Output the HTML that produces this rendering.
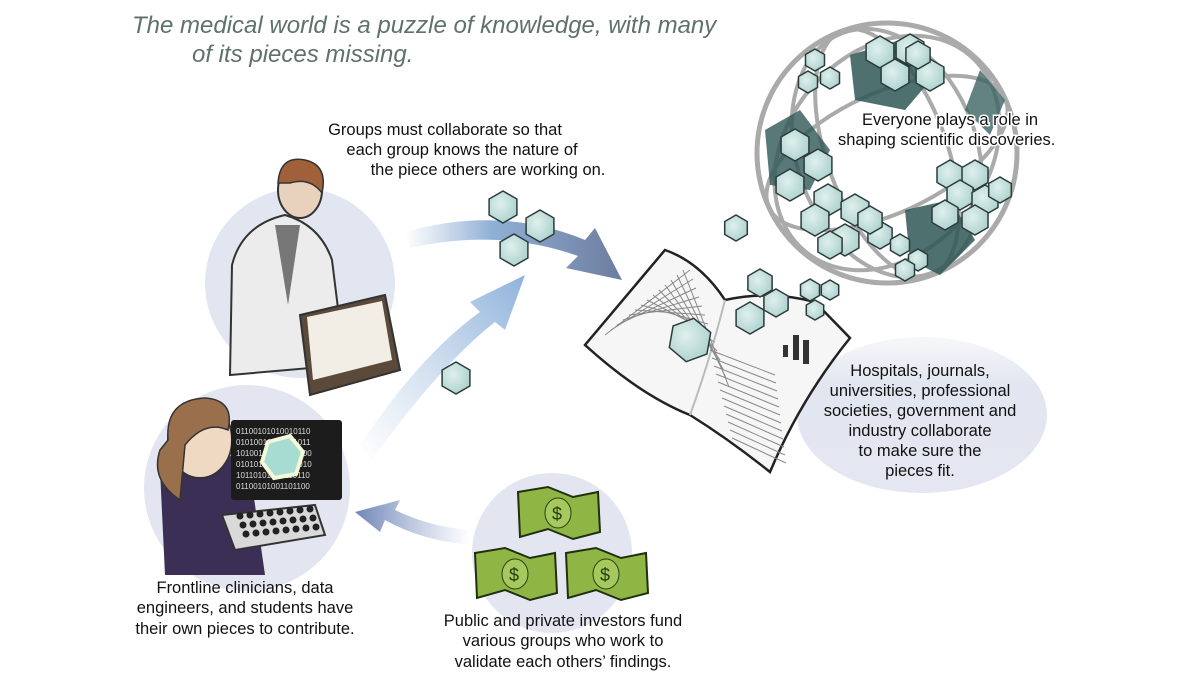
<!DOCTYPE html>
<html><head><meta charset="utf-8"><style>
html,body{margin:0;padding:0;background:#fff;}
svg{display:block}
text{font-family:"Liberation Sans",Arial,sans-serif;}
.l{font-size:16.5px;fill:#111;}
</style></head><body>
<svg id="s" width="1200" height="683" viewBox="0 0 1200 683" xmlns="http://www.w3.org/2000/svg">
<defs>
<linearGradient id="cg" x1="0" y1="0" x2="0" y2="1"><stop offset="0" stop-color="#e2e6f0" stop-opacity="0.3"/><stop offset="0.3" stop-color="#e2e6f0"/><stop offset="1" stop-color="#e4e7f1"/></linearGradient>
<linearGradient id="ag1" x1="0" y1="0" x2="1" y2="0"><stop offset="0" stop-color="#9ab6d8" stop-opacity="0"/><stop offset="0.4" stop-color="#8fb0d6"/><stop offset="1" stop-color="#6d7c9e"/></linearGradient>
<linearGradient id="ag2" x1="0" y1="1" x2="1" y2="0"><stop offset="0" stop-color="#a9c3e2" stop-opacity="0"/><stop offset="1" stop-color="#8fb2dc"/></linearGradient>
<linearGradient id="ag3" x1="1" y1="0" x2="0" y2="0"><stop offset="0" stop-color="#8aa0cc" stop-opacity="0"/><stop offset="1" stop-color="#7085b5"/></linearGradient>
<radialGradient id="hx" cx="0.4" cy="0.4" r="0.7"><stop offset="0" stop-color="#dff0ee"/><stop offset="1" stop-color="#a9cfcb"/></radialGradient>
</defs>
<text x="132" y="33" font-size="24" font-style="italic" fill="#5e716c">The medical world is a puzzle of knowledge, with many</text>
<text x="192" y="62" font-size="24" font-style="italic" fill="#5e716c">of its pieces missing.</text>

<circle cx="300" cy="283" r="95" fill="#e2e6f0"/>
<circle cx="247" cy="488" r="103" fill="#e3e6f0"/>
<circle cx="552" cy="553" r="80" fill="#e3e6f0"/>
<ellipse cx="922" cy="415" rx="125" ry="78" fill="url(#cg)"/>

<!-- arrows -->
<path d="M405 232 Q500 205 585 240 L595 228 L622 280 L566 268 L578 256 Q500 228 410 248 Z" fill="url(#ag1)"/>
<path d="M360 445 Q420 355 480 312 L470 302 L525 275 L505 330 L495 322 Q440 365 372 460 Z" fill="url(#ag2)"/>
<path d="M470 545 Q420 540 385 520 L380 532 L355 512 L400 500 L395 510 Q430 527 470 530 Z" fill="url(#ag3)"/>

<!-- scientist -->
<g transform="translate(10,15)">
<path d="M220 360 L222 250 Q232 210 275 200 Q310 210 322 245 L335 350 Z" fill="#ececec" stroke="#333" stroke-width="2"/>
<path d="M265 210 L278 290 L290 210 Z" fill="#777"/>
<ellipse cx="290" cy="175" rx="22" ry="28" fill="#e9d2bd" stroke="#333" stroke-width="2"/>
<path d="M268 168 Q270 140 295 145 Q318 150 312 178 Q300 162 280 168 Z" fill="#a0613a" stroke="#333" stroke-width="1.5"/>
<path d="M290 300 L375 280 L390 355 L300 380 Z" fill="#5b4a3a" stroke="#333" stroke-width="2"/>
<path d="M297 302 L372 286 L382 345 L303 365 Z" fill="#f2eee6"/>
</g>

<!-- clinician -->
<path d="M165 575 L160 470 Q180 440 215 445 L250 470 L265 575 Z" fill="#3c2f55"/>
<ellipse cx="200" cy="440" rx="32" ry="38" fill="#efd9c3" stroke="#333" stroke-width="2"/>
<path d="M168 440 Q165 400 205 398 Q235 400 228 430 Q205 420 185 445 L180 500 Q150 480 160 450 Z" fill="#9a6f4c" stroke="#333" stroke-width="1.5"/>
<rect x="231" y="420" width="111" height="80" rx="3" fill="#1c1c1c"/>
<text x="236" y="434" font-size="8" fill="#ddd" font-family="Liberation Mono,monospace">01100101010010110</text>
<text x="236" y="445" font-size="8" fill="#ddd" font-family="Liberation Mono,monospace">01010010110101011</text>
<text x="236" y="456" font-size="8" fill="#ddd" font-family="Liberation Mono,monospace">10100101001010100</text>
<text x="236" y="467" font-size="8" fill="#ddd" font-family="Liberation Mono,monospace">01010100101001010</text>
<text x="236" y="478" font-size="8" fill="#ddd" font-family="Liberation Mono,monospace">10110101010110110</text>
<text x="236" y="489" font-size="8" fill="#ddd" font-family="Liberation Mono,monospace">01100101001101100</text>
<polygon points="268,442 290,436 303,452 296,474 274,478 262,462" fill="#a7dcd2" stroke="#f4f8d8" stroke-width="4"/>
<path d="M222 515 L315 505 L325 535 L235 550 Z" fill="#d9d9d9" stroke="#333" stroke-width="2"/>
<g id="keys"></g>

<!-- money -->
<g id="money"></g>

<!-- book -->
<path d="M665 250 Q700 262 725 300 Q770 290 815 302 L850 338 Q800 400 770 472 Q730 440 690 415 Q640 395 585 345 Z" fill="#f6f6f6" stroke="#222" stroke-width="2.5"/>
<path d="M725 300 Q710 360 690 415" stroke="#bbb" stroke-width="2" fill="none"/>
<g id="lines" stroke="#888" stroke-width="1"></g>
<rect x="783" y="345" width="5" height="12" fill="#333"/><rect x="793" y="335" width="6" height="25" fill="#333"/><rect x="803" y="340" width="6" height="24" fill="#333"/>

<!-- sphere -->
<circle cx="887" cy="153" r="130" fill="none" stroke="#aaa" stroke-width="5"/>
<ellipse cx="887" cy="153" rx="130" ry="60" fill="none" stroke="#aaa" stroke-width="4" transform="rotate(-25 887 153)"/>
<ellipse cx="887" cy="153" rx="60" ry="130" fill="none" stroke="#aaa" stroke-width="4" transform="rotate(-20 887 153)"/>
<ellipse cx="887" cy="153" rx="100" ry="128" fill="none" stroke="#aaa" stroke-width="4" transform="rotate(40 887 153)"/>
<ellipse cx="887" cy="153" rx="128" ry="90" fill="none" stroke="#aaa" stroke-width="4" transform="rotate(70 887 153)"/>
<path d="M850 55 L900 40 L935 75 L905 110 L855 100 Z" fill="#2f5756" opacity="0.85"/>
<path d="M765 130 L800 110 L830 150 L810 190 L770 185 Z" fill="#2f5756" opacity="0.8"/>
<path d="M905 210 L950 200 L975 240 L940 275 L910 260 Z" fill="#2f5756" opacity="0.85"/>
<path d="M980 70 L1005 100 L990 135 L965 110 Z" fill="#3c6463" opacity="0.8"/>
<g id="hexes"></g>
<text x="862" y="125" class="l" stroke="#fff" stroke-width="3" paint-order="stroke">Everyone plays a role in</text>
<text x="838" y="145" class="l" stroke="#fff" stroke-width="3" paint-order="stroke">shaping scientific discoveries.</text>

<text class="l" text-anchor="middle"><tspan x="445" y="135">Groups must collaborate so that</tspan><tspan x="462" y="155">each group knows the nature of</tspan><tspan x="488" y="175">the piece others are working on.</tspan></text>
<text class="l" text-anchor="middle"><tspan x="920" y="376">Hospitals, journals,</tspan><tspan x="920" y="396">universities, professional</tspan><tspan x="920" y="416">societies, government and</tspan><tspan x="920" y="436">industry collaborate</tspan><tspan x="920" y="456">to make sure the</tspan><tspan x="920" y="476">pieces fit.</tspan></text>
<text class="l" text-anchor="middle"><tspan x="245" y="593">Frontline clinicians, data</tspan><tspan x="245" y="613">engineers, and students have</tspan><tspan x="245" y="634">their own pieces to contribute.</tspan></text>
<text class="l" text-anchor="middle"><tspan x="563" y="626">Public and private investors fund</tspan><tspan x="563" y="646">various groups who work to</tspan><tspan x="563" y="667">validate each others’ findings.</tspan></text>
</svg>
<script>
var NS="http://www.w3.org/2000/svg";
function hex(g,cx,cy,r,rot,fill){var p=[];for(var i=0;i<6;i++){var a=(rot+60*i+30)*Math.PI/180;p.push((cx+r*Math.cos(a)).toFixed(1)+","+(cy+r*Math.sin(a)).toFixed(1));}
var e=document.createElementNS(NS,"polygon");e.setAttribute("points",p.join(" "));e.setAttribute("fill",fill||"url(#hx)");e.setAttribute("stroke","#2c3b3a");e.setAttribute("stroke-width","1.5");g.appendChild(e);}
var h=document.getElementById("hexes");
var list=[[503,207,16,0],[540,226,16,0],[514,250,16,0],[456,378,16,0],[690,340,22,10],[736,228,13,0],[760,283,14,0],[776,303,14,0],[750,318,16,0],[810,290,11,0],[830,290,10,0],[815,310,10,0],
[815,60,11,0],[830,78,11,0],[808,82,11,0],[880,52,16,0],[910,50,16,0],[895,75,16,0],[930,75,16,0],[918,55,14,0],
[795,145,16,0],[818,165,16,0],[790,185,16,0],[828,200,16,0],[855,210,16,0],[815,220,16,0],[845,240,16,0],[880,235,14,0],[870,220,14,0],[830,245,14,0],
[950,175,15,0],[975,175,15,0],[960,195,15,0],[985,200,15,0],[945,215,15,0],[975,220,15,0],[1000,190,13,0],
[900,245,11,0],[918,260,11,0],[905,270,11,0]];
list.forEach(function(a){hex(h,a[0],a[1],a[2],a[3]);});
var k=document.getElementById("keys");
for(var r=0;r<3;r++)for(var c=0;c<8;c++){var e=document.createElementNS(NS,"circle");e.setAttribute("cx",240+c*10+r*3);e.setAttribute("cy",516+r*9-c*1);e.setAttribute("r",3.5);e.setAttribute("fill","#222");k.appendChild(e);}
var m=document.getElementById("money");
[[518,487],[475,548],[566,548]].forEach(function(o){var x=o[0],y=o[1];
var p=document.createElementNS(NS,"path");p.setAttribute("d","M"+x+" "+(y+5)+" L"+(x+30)+" "+y+" L"+(x+55)+" "+(y+10)+" L"+(x+80)+" "+(y+5)+" L"+(x+82)+" "+(y+45)+" L"+(x+55)+" "+(y+52)+" L"+(x+30)+" "+(y+42)+" L"+(x+2)+" "+(y+50)+" Z");
p.setAttribute("fill","#8fb544");p.setAttribute("stroke","#1f2f10");p.setAttribute("stroke-width","2");m.appendChild(p);
var c=document.createElementNS(NS,"ellipse");c.setAttribute("cx",x+40);c.setAttribute("cy",y+26);c.setAttribute("rx",13);c.setAttribute("ry",15);c.setAttribute("fill","#a6c95e");c.setAttribute("stroke","#2a3d14");m.appendChild(c);
var t=document.createElementNS(NS,"text");t.setAttribute("x",x+34);t.setAttribute("y",y+33);t.setAttribute("font-size","18");t.setAttribute("fill","#2a3d14");t.textContent="$";m.appendChild(t);});
var L=document.getElementById("lines");
for(var i=0;i<14;i++){var l=document.createElementNS(NS,"line");l.setAttribute("x1",605+i*6);l.setAttribute("y1",335-i*5);l.setAttribute("x2",690+i*3);l.setAttribute("y2",270+i*9);L.appendChild(l);}
for(var i=0;i<12;i++){var l=document.createElementNS(NS,"line");l.setAttribute("x1",710+i*2);l.setAttribute("y1",350+i*8);l.setAttribute("x2",775+i*1);l.setAttribute("y2",375+i*8);L.appendChild(l);}
</script>
</body></html>
